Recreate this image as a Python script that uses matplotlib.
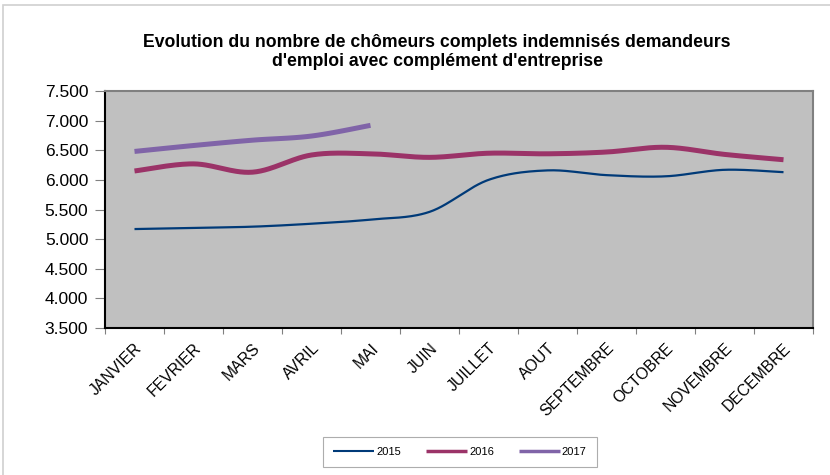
import matplotlib.pyplot as plt
import numpy as np
from matplotlib.patches import Rectangle

plt.rcParams['font.family'] = ['Liberation Sans', 'DejaVu Sans']

mois = ['JANVIER', 'FEVRIER', 'MARS', 'AVRIL', 'MAI', 'JUIN', 'JUILLET',
        'AOUT', 'SEPTEMBRE', 'OCTOBRE', 'NOVEMBRE', 'DECEMBRE']
v2015 = [5170, 5190, 5210, 5260, 5330, 5460, 6000, 6160, 6080, 6060, 6170, 6130]
v2016 = [6150, 6270, 6130, 6420, 6440, 6380, 6450, 6440, 6470, 6550, 6430, 6340]
v2017 = [6480, 6580, 6670, 6740, 6920]
yticks = [3500, 4000, 4500, 5000, 5500, 6000, 6500, 7000, 7500]


def smooth(x, y, n=30):
    # courbe lissée façon Excel (Catmull-Rom)
    x = np.asarray(x, float)
    y = np.asarray(y, float)
    px = np.concatenate([[x[0]], x, [x[-1]]])
    py = np.concatenate([[y[0]], y, [y[-1]]])
    xs, ys = [], []
    t = np.linspace(0, 1, n)
    for i in range(1, len(px) - 2):
        for p, out in ((px, xs), (py, ys)):
            p0, p1, p2, p3 = p[i - 1], p[i], p[i + 1], p[i + 2]
            out.extend(0.5 * ((2 * p1) + (-p0 + p2) * t
                              + (2 * p0 - 5 * p1 + 4 * p2 - p3) * t ** 2
                              + (-p0 + 3 * p1 - 3 * p2 + p3) * t ** 3))
    return xs, ys


fig = plt.figure(figsize=(8.3, 4.75), dpi=100)
ax = fig.add_axes([105 / 830, 1 - 328 / 475, (813 - 105) / 830, (328 - 91) / 475])
ax.set_facecolor('#c0c0c0')

series = [('2015', v2015, '#003a78', 1.6),
          ('2016', v2016, '#9b3368', 3.6),
          ('2017', v2017, '#8064a8', 3.6)]
for label, vals, col, lw in series:
    xs, ys = smooth(np.arange(len(vals)), vals)
    ax.plot(xs, ys, color=col, lw=lw, label=label, solid_capstyle='butt')

ax.set_xlim(-0.5, 11.5)
ax.set_ylim(3500, 7500)
ax.set_yticks(yticks)
ax.set_yticklabels([f'{v / 1000:.3f}' for v in yticks], fontsize=12.5)

ax.set_xticks(np.arange(-0.5, 12, 1))
ax.set_xticklabels([])
ax.set_xticks(np.arange(12), minor=True)
ax.set_xticklabels(mois, minor=True, rotation=45, ha='right',
                   rotation_mode='anchor', fontsize=11.3)
ax.tick_params(axis='x', which='minor', length=0, pad=9)
ax.tick_params(axis='x', which='major', length=4, color='#808080')
ax.tick_params(axis='y', length=7, color='#808080', pad=5)

ax.spines['left'].set_color('black')
ax.spines['bottom'].set_color('black')
ax.spines['top'].set_color('#808080')
ax.spines['right'].set_color('#808080')
for s in ax.spines.values():
    s.set_linewidth(1.5)

fig.text(437 / 830, 1 - 52 / 475,
         "Evolution du nombre de chômeurs complets indemnisés demandeurs\n"
         "d'emploi avec complément d'entreprise",
         ha='center', va='center', fontsize=12.7, fontweight='bold',
         linespacing=1.2)

leg = fig.legend(loc='center', bbox_to_anchor=(460 / 830, 1 - 452 / 475),
                 ncol=3, fontsize=8, frameon=True, fancybox=False,
                 edgecolor='#999999', handlelength=3.7, columnspacing=2.2,
                 handletextpad=0.2, borderpad=0.9)
leg.get_frame().set_linewidth(0.8)
for h in leg.get_lines():
    h.set_linewidth(2.5)
leg.get_lines()[0].set_linewidth(1.5)

fig.patches.append(Rectangle((3 / 830, -0.1), 1.2, 1.1 - 5 / 475,
                             transform=fig.transFigure, fill=False,
                             edgecolor='#d0d0d0', lw=1.2))

fig.savefig('out.png', dpi=100)
